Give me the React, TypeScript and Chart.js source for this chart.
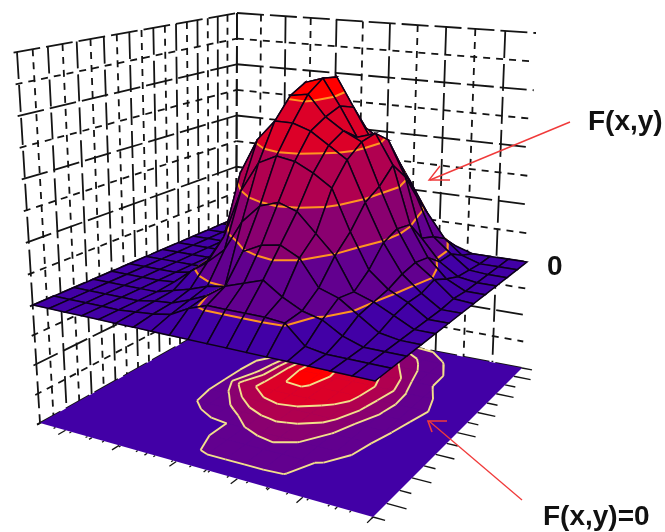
import React, { useEffect, useRef } from "react";
import { Chart, registerables } from "chart.js";

Chart.register(...registerables);

// ---- surface heights: rows run from the back edge to the front-left edge, columns from left wall to right edge
const row00 = [0,0,0,0,0,0,0.1,0.2,0.4,0.5,0.6,0.6,0.6,0.5,0.2,0,0,0,0];
const row01 = [0,0,0,0,0,0,0.3,0.7,1.8,2.2,2.3,2.5,2.5,1.5,0.7,0.2,0,0,0];
const row02 = [0,0,0,0,0,0.05,0.5,2.3,4.2,4.5,4.5,4.1,3.4,2.3,1,0.5,0.05,0,0];
const row03 = [0,0,0,0,0,0.2,0.6,3.6,5.9,6.4,5.4,4.4,4.4,3.2,1.2,0.5,0.1,0,0];
const row04 = [0,0,0,0,0,0.5,1.5,4.2,6.3,6.5,5.6,4.6,4.8,3.8,1.9,0.9,0.3,0,0];
const row05 = [0,0,0,0,0,0.6,2,4.4,6,6.1,5.4,5,4.7,3.3,2,1,0.55,0.05,0];
const row06 = [0,0,0,0,0,0.6,3.4,4.6,5.3,5.3,5.1,4.7,4.3,3,1.8,0.9,0.4,0,0];
const row07 = [0,0,0,0,0.1,0.6,1.5,3.1,4.1,4.4,4.3,4,3.6,2.3,1.2,0.7,0.4,0,0];
const row08 = [0,0,0,0,0.05,0.5,0.9,1.4,2.4,3,3.2,3,2.4,1.8,0.8,0.6,0.3,0,0];
const row09 = [0,0,0,0,0,0.15,0.3,0.5,0.6,1.8,2.1,2.2,1.9,1.1,0.9,0.5,0.1,0,0];
const row10 = [0,0,0,0,0,0.1,0.15,0.35,0.6,1,1.2,1.4,1,0.7,0.55,0.2,0,0,0];
const row11 = [0,0,0,0,0,0.05,0.1,0.2,0.5,0.7,0.7,0.7,0.7,0.65,0.1,0,0,0,0];
const row12 = [0,0,0,0,0,0,0,0,0,0,0,0,0,0,0,0,0,0,0];
const heights = [row00,row01,row02,row03,row04,row05,row06,row07,row08,row09,row10,row11,row12];

const contourLevels = [0.6, 1.85, 3.1, 4.5, 5.9];
const bandColors = ["#4200a6", "#62008f", "#8a0070", "#b00050", "#dc0028", "#ff0000"];

const wallHeights = [-4,-3,-2,-1,0,1,2,3,4,5,6,7,8];
const rightWallTicks = [0,1,2,3,4,5,6,7,8,9,10];
const rightWallSpan = 11;
const leftWallTicks = [0,1,2,3,4,5,6,7,8,9,10,11,12,13,14,15,16,17,18];
const floorRightTicks = [0,1,2,3,4,5,6,7,8,9,10,11,12,13,14];
const floorLeftTicks = [0,1,2,3,4,5,6,7,8,9,10,11];

const labelUpper = "F(x,y)";
const labelZero = "0";
const labelLower = "F(x,y)=0";

// ---- box corners on screen: back, right, front, left
const floorCorners = [[236,313],[522,368],[373,517],[40,423]];
const zeroCorners = [[236,218],[527,262],[375,381],[33,305]];
const topCorners = [[237,13],[536,33],[381,87],[17,52]];
const Z_FLOOR = -4;
const Z_TOP = 8;

type P = { x: number; y: number };

function project(u: number, v: number, z: number): P {
  const t = z >= 0 ? z / Z_TOP : z / Z_FLOOR;
  const other = z >= 0 ? topCorners : floorCorners;
  const q = zeroCorners.map((c, i) => [c[0] + (other[i][0] - c[0]) * t, c[1] + (other[i][1] - c[1]) * t]);
  const [B, R, F, L] = q;
  const dx1 = R[0] - F[0], dx2 = L[0] - F[0], sx = B[0] - R[0] + F[0] - L[0];
  const dy1 = R[1] - F[1], dy2 = L[1] - F[1], sy = B[1] - R[1] + F[1] - L[1];
  const den = dx1 * dy2 - dx2 * dy1;
  const g = (sx * dy2 - dx2 * sy) / den;
  const h = (dx1 * sy - sx * dy1) / den;
  const a = R[0] - B[0] + g * R[0], b = L[0] - B[0] + h * L[0];
  const d = R[1] - B[1] + g * R[1], e = L[1] - B[1] + h * L[1];
  const w = g * u + h * v + 1;
  return { x: (a * u + b * v + B[0]) / w, y: (d * u + e * v + B[1]) / w };
}

type V = { u: number; v: number; h: number };

function clipAbove(poly: V[], level: number, keepAbove: boolean): V[] {
  const out: V[] = [];
  const inside = (p: V) => (keepAbove ? p.h >= level : p.h <= level);
  for (let i = 0; i < poly.length; i++) {
    const a = poly[i], b = poly[(i + 1) % poly.length];
    if (inside(a)) out.push(a);
    if (inside(a) !== inside(b)) {
      const t = (level - a.h) / (b.h - a.h);
      out.push({ u: a.u + (b.u - a.u) * t, v: a.v + (b.v - a.v) * t, h: level });
    }
  }
  return out;
}

function contourSegments(poly: V[], level: number): V[][] {
  const hits: V[] = [];
  for (let i = 0; i < poly.length; i++) {
    const a = poly[i], b = poly[(i + 1) % poly.length];
    if ((a.h < level) !== (b.h < level)) {
      const t = (level - a.h) / (b.h - a.h);
      hits.push({ u: a.u + (b.u - a.u) * t, v: a.v + (b.v - a.v) * t, h: level });
    }
  }
  const segs: V[][] = [];
  for (let i = 0; i + 1 < hits.length; i += 2) segs.push([hits[i], hits[i + 1]]);
  return segs;
}

function lineSet(data: P[], color: string, width: number, dash: number[] = []) {
  return { type: "line", data, borderColor: color, backgroundColor: color, borderWidth: width, borderDash: dash,
    pointRadius: 0, tension: 0, fill: false, spanGaps: false, borderCapStyle: "butt" };
}
function polySet(data: P[], color: string, seam = 0.7) {
  return { type: "line", data: [...data, data[0]], borderColor: color, backgroundColor: color, borderWidth: seam,
    pointRadius: 0, tension: 0, fill: "shape", spanGaps: false };
}

const LONG = [27, 6];
const SHORT = [7, 6];
const INK = "#141414";

function buildLayers() {
  const layers: any[] = [];
  const nRows = heights.length - 1;
  const nCols = heights[0].length - 1;
  const nL = leftWallTicks[leftWallTicks.length - 1];

  // walls
  wallHeights.forEach((z, i) => {
    const dash = i % 2 === 0 ? LONG : SHORT;
    layers.push(lineSet([project(0, 1.012, z), project(0, 0, z)], INK, 1.8, dash));
    layers.push(lineSet([project(0, 0, z), project(1, 0, z)], INK, 1.8, dash));
  });
  leftWallTicks.forEach((t, i) => {
    const v = t / nL;
    layers.push(lineSet([project(0, v, Z_TOP), project(0, v, Z_FLOOR)], INK, 1.8, i % 2 === 0 ? LONG : SHORT));
  });
  rightWallTicks.forEach((t, i) => {
    const u = t / rightWallSpan;
    layers.push(lineSet([project(u, 0, Z_TOP), project(u, 0, Z_FLOOR)], INK, 1.8, i % 2 === 0 ? LONG : SHORT));
  });

  // floor ticks
  floorLeftTicks.forEach((t, i) => {
    const u = t / floorLeftTicks[floorLeftTicks.length - 1];
    layers.push(lineSet([project(u, 1, Z_FLOOR), project(u, i % 2 ? 1.03 : 1.012, Z_FLOOR)], INK, 1.3));
  });
  leftWallTicks.forEach((t) => {
    const u = t / nL;
    layers.push(lineSet([project(u, 1, Z_FLOOR), project(u, 1.008, Z_FLOOR)], INK, 1.2));
  });
  floorRightTicks.forEach((t, i) => {
    const v = t / floorRightTicks[floorRightTicks.length - 1];
    layers.push(lineSet([project(1, v, Z_FLOOR), project(i % 2 ? 1.05 : 1.03, v, Z_FLOOR)], INK, 1.4));
  });

  const cell = (r: number, c: number): V[] => [
    { u: c / nCols, v: r / nRows, h: heights[r][c] },
    { u: (c + 1) / nCols, v: r / nRows, h: heights[r][c + 1] },
    { u: (c + 1) / nCols, v: (r + 1) / nRows, h: heights[r + 1][c + 1] },
    { u: c / nCols, v: (r + 1) / nRows, h: heights[r + 1][c] },
  ];
  const bandPolys = (poly: V[]) => {
    const res: { color: string; poly: V[] }[] = [];
    bandColors.forEach((color, b) => {
      let p = poly;
      if (b > 0) p = clipAbove(p, contourLevels[b - 1], true);
      if (b < contourLevels.length && p.length) p = clipAbove(p, contourLevels[b], false);
      if (p.length >= 3) res.push({ color, poly: p });
    });
    return res;
  };

  // floor: base plane, coloured bands, then contour lines
  layers.push(polySet([project(0,0,Z_FLOOR), project(1,0,Z_FLOOR), project(1,1,Z_FLOOR), project(0,1,Z_FLOOR)], bandColors[0], 0));
  for (let r = 0; r < nRows; r++) for (let c = 0; c < nCols; c++) {
    bandPolys(cell(r, c)).forEach(({ color, poly }) => {
      if (color !== bandColors[0]) layers.push(polySet(poly.map((p) => project(p.u, p.v, Z_FLOOR)), color));
    });
  }
  for (let r = 0; r < nRows; r++) for (let c = 0; c < nCols; c++) {
    contourLevels.forEach((lv) => {
      contourSegments(cell(r, c), lv).forEach((s) => {
        layers.push(lineSet(s.map((p) => project(p.u, p.v, Z_FLOOR)), "#f2e08a", 1.9));
      });
    });
  }

  // surface, painted back to front
  for (let r = 0; r < nRows; r++) for (let c = 0; c < nCols; c++) {
    const quad = cell(r, c);
    bandPolys(quad).forEach(({ color, poly }) => {
      layers.push(polySet(poly.map((p) => project(p.u, p.v, p.h)), color));
    });
    contourLevels.forEach((lv) => {
      contourSegments(quad, lv).forEach((s) => {
        layers.push(lineSet(s.map((p) => project(p.u, p.v, p.h)), "#ff9420", 2));
      });
    });
    const o = quad.map((p) => project(p.u, p.v, p.h));
    layers.push(lineSet([...o, o[0]], "#0c0018", 1.5));
  }

  // red arrows
  const red = "#f03a3a";
  layers.push(lineSet([{x:570,y:122},{x:430,y:180}], red, 1.4));
  layers.push(lineSet([{x:440,y:166},{x:429,y:180},{x:450,y:180}], red, 1.4));
  layers.push(lineSet([{x:522,y:500},{x:429,y:421}], red, 1.3));
  layers.push(lineSet([{x:447,y:421},{x:428,y:421},{x:432,y:432}], red, 1.6));
  return layers;
}

const labelsPlugin = {
  id: "labels",
  afterDatasetsDraw(chart: any) {
    const { ctx, scales } = chart;
    ctx.save();
    ctx.fillStyle = "#111";
    ctx.font = 'bold 28px "Liberation Sans", Arial, sans-serif';
    ctx.textBaseline = "alphabetic";
    ctx.fillText(labelUpper, scales.x.getPixelForValue(588), scales.y.getPixelForValue(130));
    ctx.fillText(labelZero, scales.x.getPixelForValue(547), scales.y.getPixelForValue(275));
    ctx.fillText(labelLower, scales.x.getPixelForValue(543), scales.y.getPixelForValue(525));
    ctx.restore();
  },
};

export default function App() {
  const ref = useRef<HTMLCanvasElement>(null);
  useEffect(() => {
    document.body.style.margin = "0";
    document.body.style.background = "#fff";
    const chart = new Chart(ref.current as HTMLCanvasElement, {
      type: "line",
      data: { datasets: buildLayers().reverse() },
      options: {
        animation: false,
        responsive: false,
        events: [],
        layout: { padding: 0 },
        plugins: { legend: { display: false }, tooltip: { enabled: false }, title: { display: false } },
        scales: {
          x: { type: "linear", min: 0, max: 665, display: false },
          y: { type: "linear", min: 0, max: 532, reverse: true, display: false },
        },
      },
      plugins: [labelsPlugin],
    } as any);
    return () => chart.destroy();
  }, []);
  return <canvas ref={ref} width={665} height={532} style={{ display: "block" }} />;
}
